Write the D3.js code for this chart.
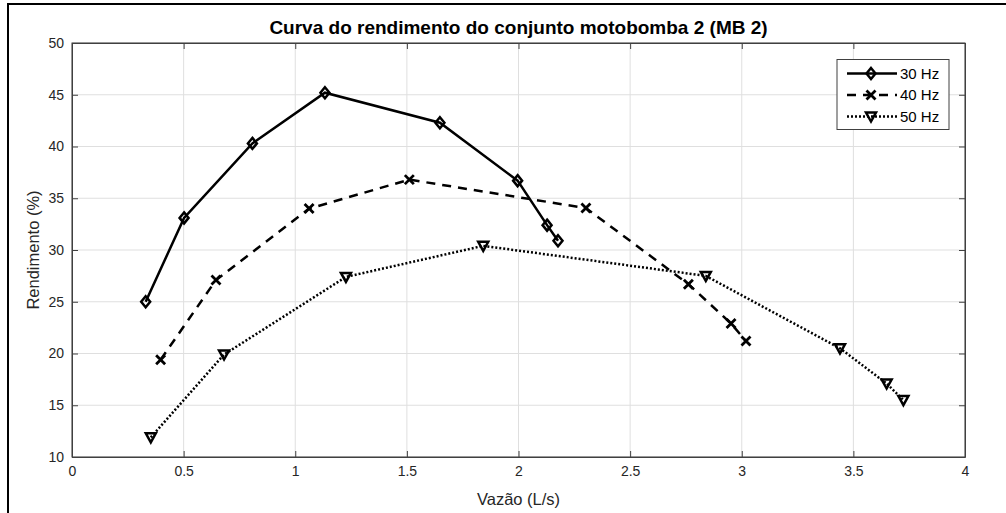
<!DOCTYPE html>
<html>
<head>
<meta charset="utf-8">
<script src="https://d3js.org/d3.v7.min.js"></script>
<style>
body { margin: 0; background: #fff; }
svg { display: block; font-family: "Liberation Sans", Arial, sans-serif; }
</style>
</head>
<body>
<svg width="1006" height="513"></svg>
<script>
// vazao (L/s) e rendimento (%)
var q30 = [0.33, 0.502, 0.808, 1.133, 1.648, 1.996, 2.128, 2.177];
var r30 = [25.0, 33.1, 40.3, 45.2, 42.3, 36.7, 32.4, 30.9];
var q40 = [0.397, 0.645, 1.062, 1.511, 2.302, 2.761, 2.952, 3.019];
var r40 = [19.4, 27.1, 34.0, 36.8, 34.05, 26.7, 22.9, 21.2];
var q50 = [0.353, 0.681, 1.227, 1.842, 2.839, 3.44, 3.649, 3.724];
var r50 = [11.9, 19.9, 27.4, 30.4, 27.5, 20.5, 17.1, 15.5];
var names = ["30 Hz", "40 Hz", "50 Hz"];
var xTicks = [0, 0.5, 1, 1.5, 2, 2.5, 3, 3.5, 4];
var yTicks = [10, 15, 20, 25, 30, 35, 40, 45, 50];

var svg = d3.select("svg");
var pL = 72, pR = 965, pT = 43, pB = 457;

var x = d3.scaleLinear().domain([0, 4]).range([pL, pR]);
var y = d3.scaleLinear().domain([10, 50]).range([pB, pT]);

// figure border (left + top)
svg.append("path").attr("d", "M8,513V4H1006").attr("fill", "none")
  .attr("stroke", "#000").attr("stroke-width", 2);

// grid
svg.append("g").selectAll("line").data(xTicks).enter().append("line")
  .attr("x1", d => x(d)).attr("x2", d => x(d)).attr("y1", pT).attr("y2", pB)
  .attr("stroke", "#dfdfdf").attr("stroke-width", 1);
svg.append("g").selectAll("line").data(yTicks).enter().append("line")
  .attr("x1", pL).attr("x2", pR).attr("y1", d => y(d)).attr("y2", d => y(d))
  .attr("stroke", "#dfdfdf").attr("stroke-width", 1);

// axes
var axColor = "#404040";
var xb = svg.append("g").attr("transform", "translate(0," + pB + ")")
  .call(d3.axisBottom(x).tickValues(xTicks).tickSizeInner(-6).tickSizeOuter(0).tickPadding(9).tickFormat(d3.format("")));
var xt = svg.append("g").attr("transform", "translate(0," + pT + ")")
  .call(d3.axisTop(x).tickValues(xTicks).tickSizeInner(-6).tickSizeOuter(0).tickFormat(""));
var yl = svg.append("g").attr("transform", "translate(" + pL + ",0)")
  .call(d3.axisLeft(y).tickValues(yTicks).tickSizeInner(-6).tickSizeOuter(0).tickPadding(8));
var yr = svg.append("g").attr("transform", "translate(" + pR + ",0)")
  .call(d3.axisRight(y).tickValues(yTicks).tickSizeInner(-6).tickSizeOuter(0).tickFormat(""));
[xb, xt, yl, yr].forEach(function(g) {
  g.selectAll("path").attr("stroke", axColor);
  g.selectAll("line").attr("stroke", axColor);
  g.selectAll("text").attr("fill", "#262626").style("font-size", "14px")
    .style("font-family", "'Liberation Sans', Arial, sans-serif");
});
svg.append("rect").attr("x", pL).attr("y", pT).attr("width", pR - pL).attr("height", pB - pT)
  .attr("fill", "none").attr("stroke", axColor).attr("stroke-width", 1);

// title & labels
svg.append("text").attr("x", (pL + pR) / 2).attr("y", 34).attr("text-anchor", "middle")
  .style("font-size", "19px").style("font-weight", "bold").attr("fill", "#000")
  .text("Curva do rendimento do conjunto motobomba 2 (MB 2)");
svg.append("text").attr("x", (pL + pR) / 2).attr("y", 505).attr("text-anchor", "middle")
  .style("font-size", "16.5px").attr("fill", "#262626").text("Vazão (L/s)");
svg.append("text").attr("transform", "translate(39," + (pT + pB) / 2 + ") rotate(-90)")
  .attr("text-anchor", "middle").style("font-size", "16.5px").attr("fill", "#262626").text("Rendimento (%)");

// markers
function marker(g, type, cx, cy) {
  if (type == 0) {
    g.append("path").attr("d", "M" + cx + "," + (cy - 5.5) + "L" + (cx + 4.5) + "," + cy + "L" + cx + "," + (cy + 5.5) + "L" + (cx - 4.5) + "," + cy + "Z")
      .attr("fill", "none").attr("stroke", "#000").attr("stroke-width", 2.5);
  } else if (type == 1) {
    g.append("path").attr("d", "M" + (cx - 4.5) + "," + (cy - 4.5) + "L" + (cx + 4.5) + "," + (cy + 4.5) + "M" + (cx + 4.5) + "," + (cy - 4.5) + "L" + (cx - 4.5) + "," + (cy + 4.5))
      .attr("fill", "none").attr("stroke", "#000").attr("stroke-width", 2.8);
  } else {
    g.append("path").attr("d", "M" + (cx - 5) + "," + (cy - 4) + "L" + (cx + 5) + "," + (cy - 4) + "L" + cx + "," + (cy + 5) + "Z")
      .attr("fill", "none").attr("stroke", "#000").attr("stroke-width", 2.5);
  }
}

var series = [[q30, r30], [q40, r40], [q50, r50]];
var dashes = [null, "9,7", "2,2"];
var line = d3.line().x(d => x(d[0])).y(d => y(d[1]));

series.forEach(function(s, k) {
  var pts = s[0].map(function(v, i) { return [v, s[1][i]]; });
  svg.append("path").datum(pts).attr("d", line).attr("fill", "none")
    .attr("stroke", "#000").attr("stroke-width", 2.5)
    .attr("stroke-dasharray", dashes[k]);
  var g = svg.append("g");
  pts.forEach(function(p) { marker(g, k, x(p[0]), y(p[1])); });
});

// legend
var lg = svg.append("g");
lg.append("rect").attr("x", 837).attr("y", 59.5).attr("width", 112).attr("height", 70)
  .attr("fill", "#fff").attr("stroke", axColor).attr("stroke-width", 1);
names.forEach(function(n, k) {
  var ly = 73.5 + k * 21.5;
  lg.append("line").attr("x1", 847).attr("x2", 897).attr("y1", ly).attr("y2", ly)
    .attr("stroke", "#000").attr("stroke-width", 2.5).attr("stroke-dasharray", dashes[k]);
  marker(lg, k, 871, ly);
  lg.append("text").attr("x", 900).attr("y", ly + 5).style("font-size", "15px")
    .attr("fill", "#000").text(n);
});
</script>
</body>
</html>
